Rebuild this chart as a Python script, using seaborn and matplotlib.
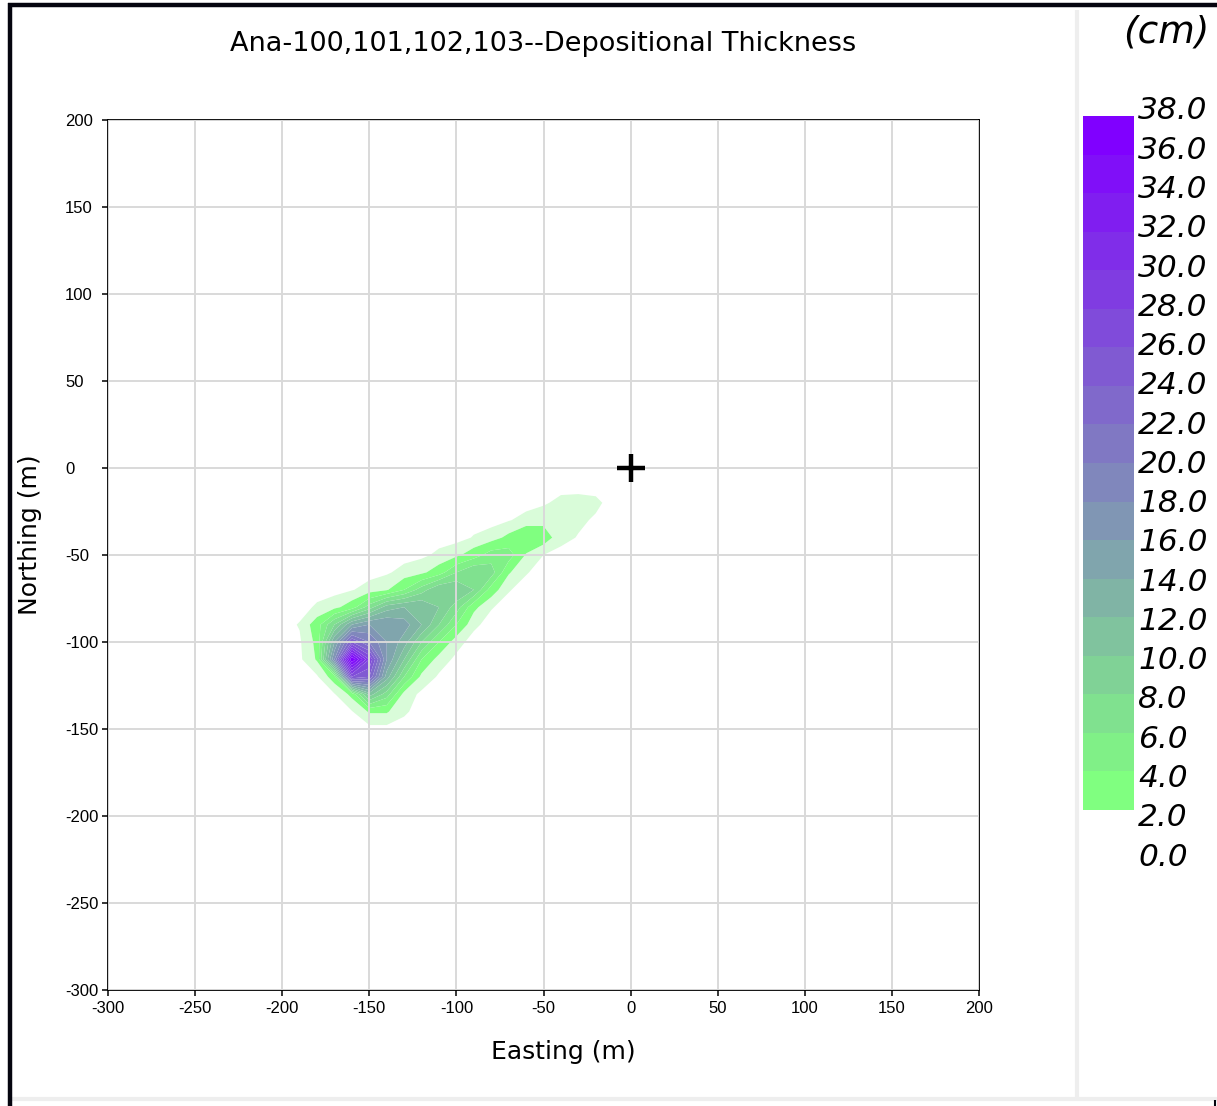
import numpy as np
import pandas as pd
import matplotlib
matplotlib.use("Agg")
import matplotlib.pyplot as plt
from matplotlib.lines import Line2D
import seaborn as sns

# ---------------- data ----------------
title = "Ana-100,101,102,103--Depositional Thickness"
x_label = "Easting (m)"
y_label = "Northing (m)"
unit_label = "(cm)"

# grid coordinates (m)
grid_x = [-200, -190, -180, -170, -160, -150, -140, -130, -120, -110, -100,
          -90, -80, -70, -60, -50, -40, -30, -20, -10, 0]
grid_y = [0, -10, -20, -30, -40, -50, -60, -70, -80, -90, -100, -110, -120,
          -130, -140, -150]

# depositional thickness (cm), one row per grid_y value
row_y000 = [0] * 21
row_y010 = [0] * 21
row_y020 = [0] * 15 + [0.3, 0.9, 1.0, 0.8, 0, 0]
row_y030 = [0] * 13 + [0.4, 1.0, 1.5, 1.2, 0.8, 0.3, 0, 0]
row_y040 = [0] * 11 + [0.6, 1.2, 2.5, 4, 3, 1.0, 0.4, 0, 0, 0]
row_y050 = [0] * 8 + [0.2, 0.8, 1.6, 3, 5, 5, 1.8, 0.5, 0, 0, 0, 0, 0]
row_y060 = [0] * 6 + [0.3, 1.0, 1.6, 3, 6, 8, 7, 2.2, 0.6, 0, 0, 0, 0, 0, 0]
row_y070 = [0] * 4 + [0.4, 1.1, 1.8, 4, 7, 10, 10, 8, 3, 0.6, 0, 0, 0, 0, 0, 0, 0]
row_y080 = [0, 0, 0.7, 1.5, 3, 7, 11, 12, 12, 10, 7, 2.5, 0.6, 0, 0, 0, 0, 0, 0, 0, 0]
row_y090 = [0, 0.6, 3, 8, 14, 16, 16, 15, 12, 8, 4, 0.8, 0, 0, 0, 0, 0, 0, 0, 0, 0]
row_y100 = [0, 0.3, 2.5, 14, 24, 20, 16, 13, 8, 4, 1.0] + [0] * 10
row_y110 = [0, 0.2, 2.2, 18, 38, 28, 16, 10, 4, 1.2, 0.2] + [0] * 10
row_y120 = [0, 0, 0.3, 3, 26, 24, 13, 6, 1.5, 0.3] + [0] * 11
row_y130 = [0, 0, 0, 0.4, 2.5, 11, 7, 1.3, 0.2] + [0] * 12
row_y140 = [0] * 4 + [0.4, 2.2, 2.2, 0.7] + [0] * 13
row_y150 = [0] * 21

thickness_rows = [row_y000, row_y010, row_y020, row_y030, row_y040, row_y050,
                  row_y060, row_y070, row_y080, row_y090, row_y100, row_y110,
                  row_y120, row_y130, row_y140, row_y150]

# colour-scale levels (cm)
band_levels = [2, 4, 6, 8, 10, 12, 14, 16, 18, 20, 22, 24, 26, 28, 30, 32, 34, 36, 38]
trace_level = 0.5
cbar_ticks = [0, 2, 4, 6, 8, 10, 12, 14, 16, 18, 20, 22, 24, 26, 28, 30, 32, 34, 36, 38]

# source location
source_x = [0]
source_y = [0]

axis_ticks = [-300, -250, -200, -150, -100, -50, 0, 50, 100, 150, 200]

# ---------------- styling ----------------
sns.set_style("whitegrid")
plt.rcParams["font.family"] = ["DejaVu Sans"]
plt.rcParams["axes.unicode_minus"] = False
plt.rcParams["text.color"] = "black"
plt.rcParams["axes.labelcolor"] = "black"
plt.rcParams["xtick.color"] = "black"
plt.rcParams["ytick.color"] = "black"

n_bands = len(band_levels) - 1
band_colors = []
for k in range(n_bands):
    t = k / (n_bands - 1)
    band_colors.append((128 / 255, (255 * (1 - t)) / 255, (128 + 127 * t) / 255))
halo_color = "#d9fcd9"

W, H = 1217, 1106
fig = plt.figure(figsize=(W / 100, H / 100), dpi=100)
fig.patch.set_facecolor("white")

ax = fig.add_axes([108 / W, 1 - 990 / H, 871 / W, 870 / H])
cax = fig.add_axes([1083 / W, 1 - 848.6 / H, 51 / W, (848.6 - 116) / H])
# label strip for the colour bar (labels spaced slightly wider than the bar)
lab_top, lab_bot = 100, 870
lax = fig.add_axes([1083 / W, 1 - lab_bot / H, 51 / W, (lab_bot - lab_top) / H])

# ---------------- main map ----------------
Z = np.array(thickness_rows, dtype=float)
X, Y = np.meshgrid(np.array(grid_x, float), np.array(grid_y, float))
ax.contourf(X, Y, Z, levels=[trace_level] + band_levels,
            colors=[halo_color] + band_colors, zorder=1, antialiased=True)

src = pd.DataFrame({"x": source_x, "y": source_y})
sns.scatterplot(data=src, x="x", y="y", marker="+", s=420, color="black",
                linewidth=3.2, ax=ax, zorder=6, legend=False)

ax.set_xlim(-300, 200)
ax.set_ylim(-300, 200)
ax.set_xticks(axis_ticks)
ax.set_yticks(axis_ticks)
ax.set_axisbelow(False)
ax.grid(True, color="#d9d9d9", linewidth=1.4)
for s in ax.spines.values():
    s.set_color("black")
    s.set_linewidth(1.3)
ax.tick_params(axis="both", direction="out", length=4, width=1.1, color="black",
               labelsize=12, bottom=True, left=True)
ax.tick_params(axis="x", pad=4)
ax.tick_params(axis="y", pad=27)
for lab in ax.get_xticklabels() + ax.get_yticklabels():
    lab.set_fontfamily("Liberation Sans")
for lab in ax.get_yticklabels():
    lab.set_horizontalalignment("left")

ax.set_xlabel(x_label, fontsize=18)
ax.set_ylabel(y_label, fontsize=18)
ax.xaxis.set_label_coords((563 - 108) / 871, (990 - 1040) / 870)
ax.yaxis.set_label_coords((42 - 108) / 871, (990 - 535) / 870)
ax.set_title(title, fontsize=19.5, y=(990 - 44) / 870, va="center", pad=0)

# ---------------- colour bar ----------------
cax.bar(x=[0] * n_bands, height=[band_levels[i + 1] - band_levels[i] for i in range(n_bands)],
        bottom=band_levels[:-1], width=1, align="edge", color=band_colors,
        edgecolor="none", linewidth=0)
cax.set_xlim(0, 1)
cax.set_ylim(0, 38)
cax.grid(False)
for s in cax.spines.values():
    s.set_visible(False)
cax.set_xticks([])
cax.set_yticks([])
cax.set_facecolor("white")

# label axis: value v sits at pixel 854 - 19.63 v
px_per_unit = (854 - 108) / 38.0
lax.set_ylim((854 - lab_bot) / px_per_unit, (854 - lab_top) / px_per_unit)
lax.set_xlim(0, 1)
lax.patch.set_visible(False)
lax.grid(False)
for s in lax.spines.values():
    s.set_visible(False)
lax.set_xticks([])
lax.yaxis.tick_right()
lax.set_yticks(cbar_ticks)
lax.set_yticklabels([f"{v:.1f}" for v in cbar_ticks])
lax.tick_params(axis="y", length=0, pad=3, labelsize=22.5)
for lab in lax.get_yticklabels():
    lab.set_fontstyle("italic")

fig.text(1209 / W, 1 - 32 / H, unit_label, ha="right", va="center",
         fontsize=27, fontstyle="italic")

# ---------------- frame ----------------
def fline(x0, y0, x1, y1, color, lw):
    fig.add_artist(Line2D([x0 / W, x1 / W], [1 - y0 / H, 1 - y1 / H],
                          transform=fig.transFigure, color=color, linewidth=lw,
                          solid_capstyle="butt"))

fline(1077, 10, 1077, 1097, "#eeeeee", 3)
fline(11, 1098.5, W, 1098.5, "#eeeeee", 3)
fline(8, 5, W, 5, "#05050f", 3.2)
fline(9.5, 3, 9.5, H, "#05050f", 3.2)
fline(1215, 1100, 1215, H, "#05050f", 1.5)

fig.savefig("out.png", dpi=100)
